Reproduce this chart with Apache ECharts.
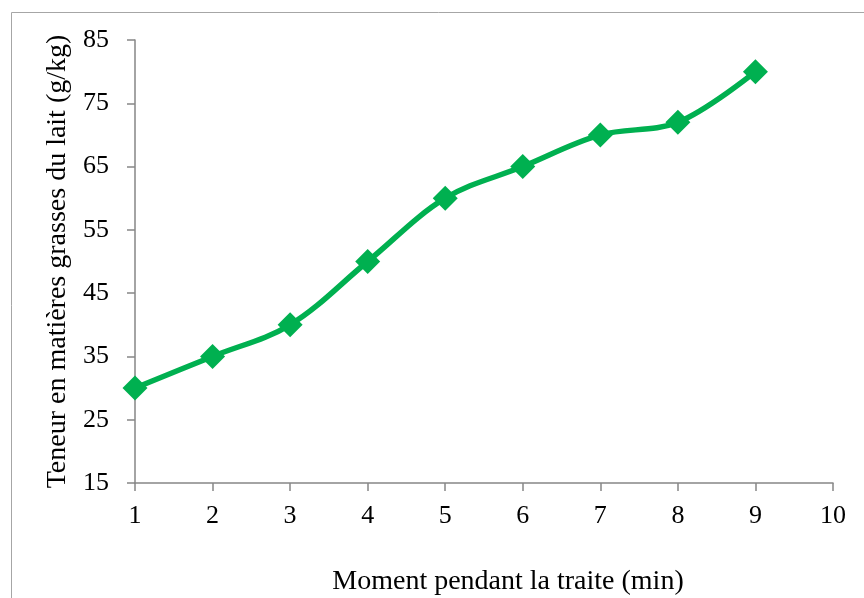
<!DOCTYPE html>
<html><head><meta charset="utf-8">
<script src="https://cdn.jsdelivr.net/npm/echarts@6/dist/echarts.min.js"></script>
<style>html,body{margin:0;padding:0;background:#fff}#c{width:864px;height:598px}</style>
</head><body><div id="c"></div>
<script>
const moments = [1, 2, 3, 4, 5, 6, 7, 8, 9];
const teneur = [30, 35, 40, 50, 60, 65, 70, 72, 80];
const xTitle = 'Moment pendant la traite (min)';
const yTitle = 'Teneur en matières grasses du lait (g/kg)';

const chart = echarts.init(document.getElementById('c'));
const font = '"Liberation Serif", "Times New Roman", serif';
chart.setOption({
  animation: false,
  backgroundColor: '#fff',
  graphic: [{
    type: 'rect', left: 9, top: 10, shape: { width: 900, height: 700 },
    style: { fill: 'none', stroke: '#a6a6a6', lineWidth: 1 }, silent: true
  }],
  grid: { left: 135, right: 31, top: 40, bottom: 115, outerBoundsMode: 'none', containLabel: false },
  xAxis: {
    type: 'value', min: 1, max: 10, interval: 1,
    name: xTitle, nameLocation: 'middle', nameGap: 85,
    nameTextStyle: { fontFamily: font, fontSize: 28, color: '#000', padding: [0, 0, 0, 48] },
    axisLine: { lineStyle: { color: '#868686', width: 1.5 } },
    axisTick: { show: true, length: 8, lineStyle: { color: '#868686', width: 1.5 } },
    axisLabel: { fontFamily: font, fontSize: 26, color: '#000', margin: 20 },
    splitLine: { show: false }
  },
  yAxis: {
    type: 'value', min: 15, max: 85, interval: 10,
    name: yTitle, nameLocation: 'middle', nameGap: 53, nameRotate: 90,
    nameTextStyle: { fontFamily: font, fontSize: 28, color: '#000' },
    axisLine: { show: true, lineStyle: { color: '#868686', width: 1.5 } },
    axisTick: { show: true, length: 8, lineStyle: { color: '#868686', width: 1.5 } },
    axisLabel: { fontFamily: font, fontSize: 26, color: '#000', margin: 26 },
    splitLine: { show: false }
  },
  series: [{
    type: 'line',
    data: moments.map((m, i) => [m, teneur[i]]),
    smooth: 0.35,
    symbol: 'diamond', symbolSize: 25,
    lineStyle: { color: '#00B050', width: 5.5 },
    itemStyle: { color: '#00B050' }
  }]
});
</script></body></html>
